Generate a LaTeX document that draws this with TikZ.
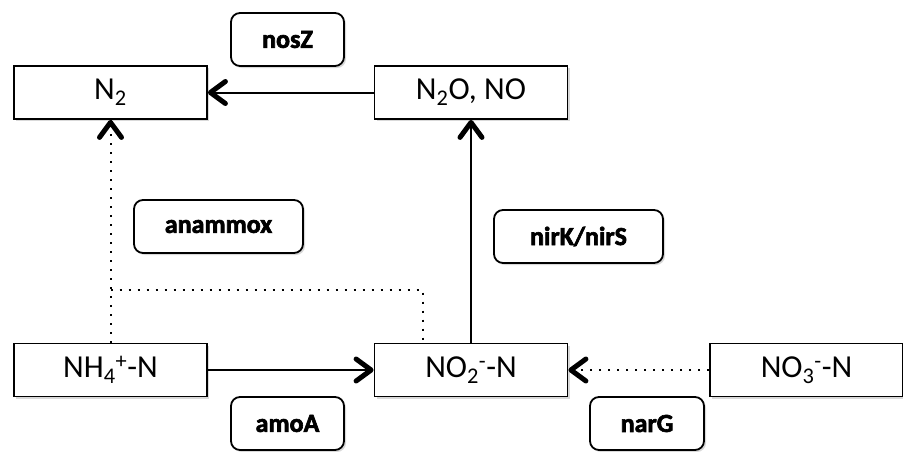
\documentclass[tikz,border=0pt]{standalone}
\usepackage{fontspec}
\setmainfont{Carlito}
\newfontfamily\genefont[BoldFeatures={FakeBold=2.5}]{Carlito}
\usetikzlibrary{arrows.meta,shadows}
\begin{document}
\begin{tikzpicture}[x=1pt,y=-1pt,
  species/.style={draw,line width=1.8pt,fill=white,minimum width=193pt,minimum height=53pt,inner sep=0pt,font=\fontsize{32}{36}\selectfont,
    drop shadow={shadow xshift=2pt,shadow yshift=-2pt,opacity=0.3}},
  gene/.style={draw,line width=1.8pt,fill=white,rounded corners=9pt,minimum height=53pt,inner sep=0pt,font=\fontsize{26}{30}\genefont\bfseries,
    drop shadow={shadow xshift=2pt,shadow yshift=-2pt,opacity=0.3}},
  tip/.style={-{Straight Barb[length=15pt,width=22pt,line width=5pt,round]}},
  flow/.style={line width=2pt,tip},
  dotflow/.style={line width=2pt,dash pattern=on 2pt off 7pt},
]
\useasboundingbox (0,0) rectangle (903,451);
\node[species] (n2) at (110.5,92.5) {N\textsubscript{2}};
\node[species] (n2o) at (471,92.5) {N\textsubscript{2}O, NO};
\node[species] (nh4) at (110.5,370) {NH\textsubscript{4}\textsuperscript{+}-N};
\node[species] (no2) at (471,370) {NO\textsubscript{2}\textsuperscript{-}-N};
\node[species] (no3) at (806.5,370) {NO\textsubscript{3}\textsuperscript{-}-N};
\node[gene,minimum width=113pt] (nosz) at (287.5,39.5) {nosZ};
\node[gene,minimum width=169pt] (anam) at (218.5,226.5) {anammox};
\node[gene,minimum width=169pt] (nirk) at (578.5,236.5) {nirK/nirS};
\node[gene,minimum width=113pt] (amoa) at (287.5,423.5) {amoA};
\node[gene,minimum width=114pt] (narg) at (647,423.5) {narG};
\coordinate (j1) at (110.5,290);
\coordinate (j2) at (423,290);
\draw[flow] (n2o.west) -- (n2.east);
\draw[flow] (no2.north) -- (n2o.south);
\draw[flow] (nh4.east) -- (no2.west);
\draw[dotflow] (no3.west) -- (no2.east);
\draw[tip,line width=2pt] ([xshift=0.5pt]no2.east) -- (no2.east);
\draw[dotflow] (nh4.north) -- (n2.south);
\draw[tip,line width=2pt] ([yshift=-0.5pt]n2.south) -- (n2.south);
\draw[dotflow] (j1) -- (j2) -- (j2 |- no2.north);
\end{tikzpicture}
\end{document}
